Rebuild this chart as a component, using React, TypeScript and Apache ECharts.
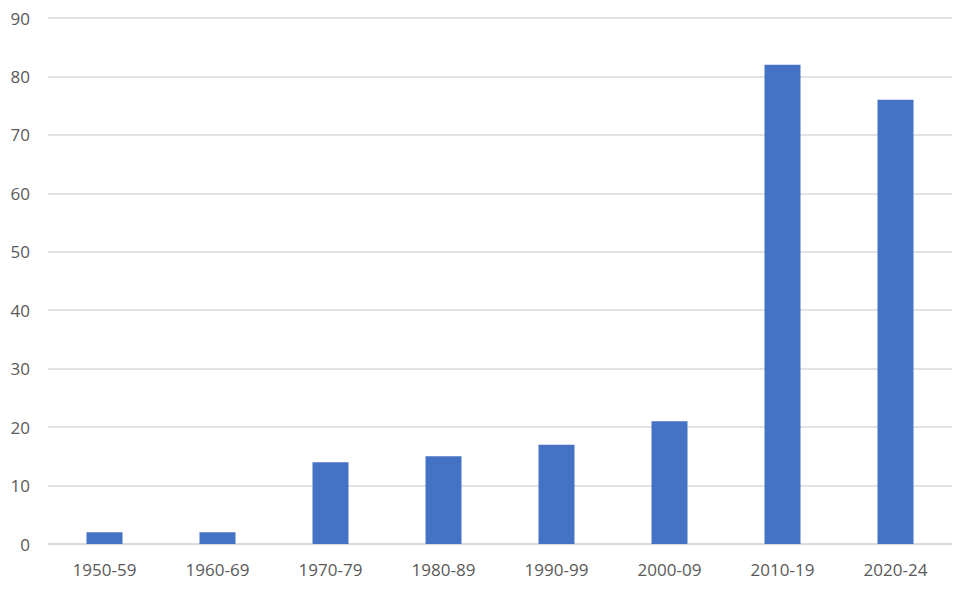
import React, { useEffect, useRef } from "react";
import * as echarts from "echarts";

const categories = ["1950-59", "1960-69", "1970-79", "1980-89", "1990-99", "2000-09", "2010-19", "2020-24"];
const values = [2, 2, 14, 15, 17, 21, 82, 76];

export default function App() {
  const ref = useRef<HTMLDivElement>(null);
  useEffect(() => {
    if (!ref.current) return;
    const chart = echarts.init(ref.current, null, { renderer: "svg" });
    chart.setOption({
      animation: false,
      backgroundColor: "#ffffff",
      grid: { left: 48, right: 24, top: 18, bottom: 49, containLabel: false },
      xAxis: {
        type: "category",
        data: categories,
        axisLine: { show: true, lineStyle: { color: "#d9d9d9", width: 1.5 } },
        axisTick: { show: false },
        axisLabel: { color: "#595959", fontSize: 17, fontFamily: "Open Sans", margin: 17 },
      },
      yAxis: {
        type: "value",
        min: 0,
        max: 90,
        interval: 10,
        axisLine: { show: false },
        axisTick: { show: false },
        splitLine: { lineStyle: { color: "#d9d9d9", width: 1.5 } },
        axisLabel: { color: "#595959", fontSize: 17, fontFamily: "Open Sans", margin: 18 },
      },
      series: [
        {
          type: "bar",
          data: values,
          barWidth: 36,
          itemStyle: { color: "#4472C4" },
        },
      ],
    });
    return () => chart.dispose();
  }, []);
  return <div ref={ref} style={{ position: "absolute", left: 0, top: 0, width: 976, height: 593 }} />;
}
